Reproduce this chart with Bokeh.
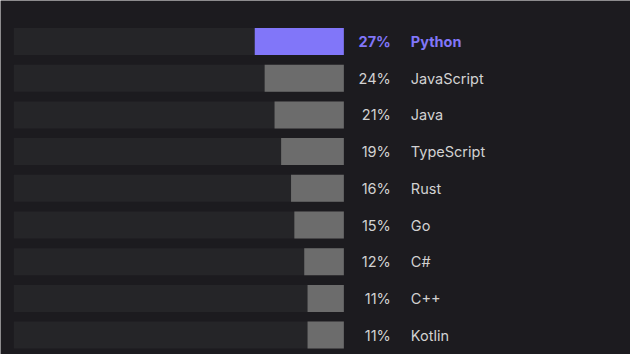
from bokeh.plotting import figure
from bokeh.models import ColumnDataSource, Range1d
from bokeh.embed import file_html
from bokeh.resources import INLINE
from bokeh.core.properties import value

languages = ["Python", "JavaScript", "Java", "TypeScript", "Rust", "Go", "C#", "C++", "Kotlin"]
shares = [27, 24, 21, 19, 16, 15, 12, 11, 11]
track_max = 100

BG = "#1c1b1f"
TRACK = "#252528"
GRAY = "#6c6c6c"
PURPLE = "#8176f9"
TEXT = "#d2d2d2"

n = len(languages)
rows = list(range(n))
highlight = [i == 0 for i in rows]

src = ColumnDataSource(dict(
    y=rows,
    left=[track_max - s for s in shares],
    right=[track_max] * n,
    track_left=[0] * n,
    color=[PURPLE if h else GRAY for h in highlight],
    tcolor=[PURPLE if h else TEXT for h in highlight],
    weight=["bold" if h else "normal" for h in highlight],
    pct=[f"{s}%" for s in shares],
    lang=languages,
))

W, H = 630, 354
px_per_unit = 3.3
x0 = -14 / px_per_unit
row_px = 36.7
y_top = -41 / row_px
y_bot = y_top + H / row_px

p = figure(width=W, height=H, output_backend="svg", toolbar_location=None,
           x_range=Range1d(x0 + 0.2, x0 + 0.2 + W / px_per_unit),
           y_range=Range1d(y_bot, y_top),
           min_border=0, min_border_left=0, min_border_right=0,
           min_border_top=0, min_border_bottom=0)
p.background_fill_color = BG
p.border_fill_color = BG
p.outline_line_color = None
p.xgrid.visible = False
p.ygrid.visible = False
p.xaxis.visible = False
p.yaxis.visible = False

bar_h = 27 / row_px
p.hbar(y="y", left="track_left", right="right", height=bar_h, source=src,
       fill_color=TRACK, line_color=None)
p.hbar(y="y", left="left", right="right", height=bar_h, source=src,
       fill_color="color", line_color=None)

p.text(x="right", y="y", text="pct", source=src, x_offset=47,
       text_align="right", text_baseline="middle",
       text_font=value("Inter"), text_font_size="14.5px",
       text_color="tcolor", text_font_style="weight")
p.text(x="right", y="y", text="lang", source=src, x_offset=67,
       text_align="left", text_baseline="middle",
       text_font=value("Inter"), text_font_size="14.5px",
       text_color="tcolor", text_font_style="weight")

open("out.html", "w").write(file_html(p, INLINE))
